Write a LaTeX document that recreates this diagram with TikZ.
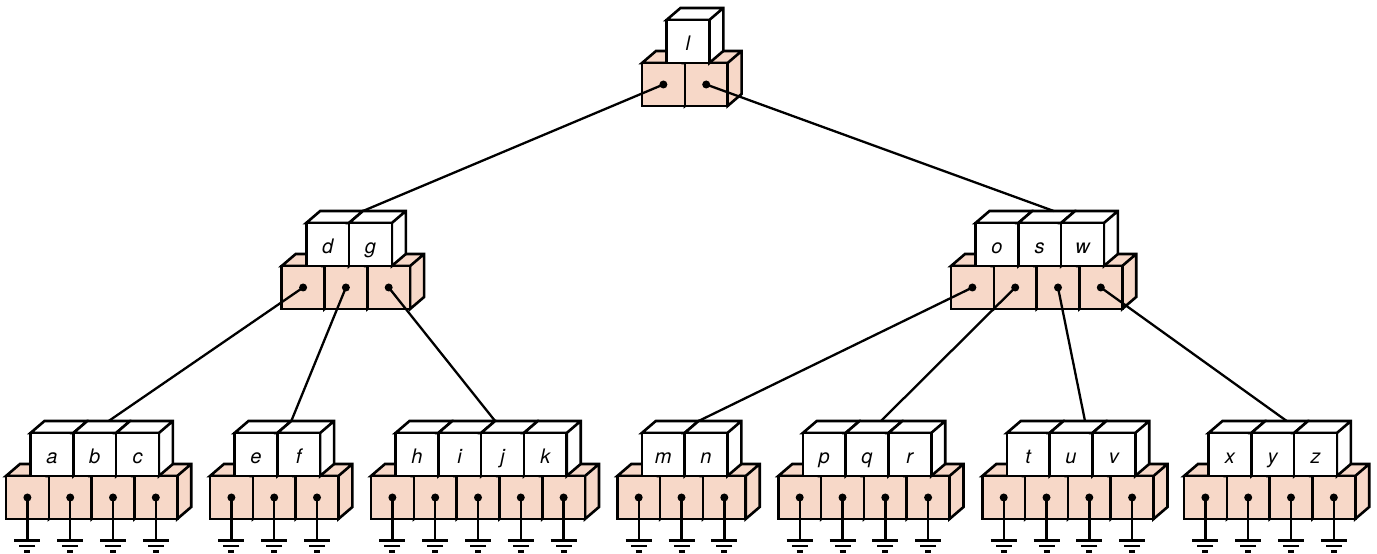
\documentclass[tikz,border=0pt]{standalone}
\usepackage{fontspec}
\setsansfont{TeX Gyre Heros}
\usepackage{xcolor}
\usepackage{tikz}
\usetikzlibrary{positioning}
\definecolor{cellpink}{RGB}{247,216,200}

\begin{document}
\begin{tikzpicture}[
  x=1pt, y=1pt,
  cube/.style={
    rectangle,
    draw,
    fill=#1,
    line width=2.6pt,
    minimum width=42.8pt,
    minimum height=43pt,
    inner sep=0pt,
    outer sep=0pt,
    append after command={\pgfextra{
      \filldraw[fill=#1, line width=2.6pt]
        (\tikzlastnode.north west) -- ++(14,12) -- ++(42.8,0) -- ++(0,-43)
        -- (\tikzlastnode.south east) -- (\tikzlastnode.north east) -- cycle
        (\tikzlastnode.north east) -- ++(14,12);}}
  },
  key/.style={
    cube=white,
    font=\sffamily\itshape\fontsize{20}{20}\selectfont,
    text height=17.5pt,
    text depth=0pt
  },
  ptr/.style={
    cube=cellpink,
    path picture={\fill[black] (path picture bounding box.center) circle[radius=4pt];}
  },
  leaf/.style={
    cube=cellpink,
    path picture={
      \fill[black] (path picture bounding box.center) circle[radius=4pt];
      \draw[line width=2.4pt] (path picture bounding box.center) -- (path picture bounding box.south);},
    append after command={\pgfextra{
      \draw[line width=2.4pt] (\tikzlastnode.south) -- ++(0,-21.5)
        ++(-13,0) -- ++(26,0) ++(-5,-5.5) -- ++(-16,0) ++(5,-5.5) -- ++(6,0);}}
  },
  link/.style={
    line width=2.3pt
  }
]
\useasboundingbox (0,0) rectangle (1377,554);

% Root
\node[ptr, anchor=north west] (l1) at (642,491) {};
\node[ptr, right=0pt of l1] (l2) {};
\node[key, above right=0pt and 24.5pt of l1.north west] (l) {l};

% Second level
\node[ptr, anchor=north west] (dg1) at (281.7,288) {};
\node[ptr, right=0pt of dg1] (dg2) {};
\node[ptr, right=0pt of dg2] (dg3) {};
\node[key, above right=0pt and 24.5pt of dg1.north west] (d) {d};
\node[key, right=0pt of d] (g) {g};

\node[ptr, anchor=north west] (osw1) at (951,288) {};
\node[ptr, right=0pt of osw1] (osw2) {};
\node[ptr, right=0pt of osw2] (osw3) {};
\node[ptr, right=0pt of osw3] (osw4) {};
\node[key, above right=0pt and 24.5pt of osw1.north west] (o) {o};
\node[key, right=0pt of o] (s) {s};
\node[key, right=0pt of s] (w) {w};

% Leaves
\node[leaf, anchor=north west] (abc1) at (6,78) {};
\node[leaf, right=0pt of abc1] (abc2) {};
\node[leaf, right=0pt of abc2] (abc3) {};
\node[leaf, right=0pt of abc3] (abc4) {};
\node[key, above right=0pt and 24.5pt of abc1.north west] (a) {a};
\node[key, right=0pt of a] (b) {b};
\node[key, right=0pt of b] (c) {c};

\node[leaf, anchor=north west] (ef1) at (210,78) {};
\node[leaf, right=0pt of ef1] (ef2) {};
\node[leaf, right=0pt of ef2] (ef3) {};
\node[key, above right=0pt and 24.5pt of ef1.north west] (e) {e};
\node[key, right=0pt of e] (f) {f};

\node[leaf, anchor=north west] (hijk1) at (371,78) {};
\node[leaf, right=0pt of hijk1] (hijk2) {};
\node[leaf, right=0pt of hijk2] (hijk3) {};
\node[leaf, right=0pt of hijk3] (hijk4) {};
\node[leaf, right=0pt of hijk4] (hijk5) {};
\node[key, above right=0pt and 24.5pt of hijk1.north west] (h) {h};
\node[key, right=0pt of h] (i) {i};
\node[key, right=0pt of i] (j) {j};
\node[key, right=0pt of j] (k) {k};

\node[leaf, anchor=north west] (mn1) at (617.3,78) {};
\node[leaf, right=0pt of mn1] (mn2) {};
\node[leaf, right=0pt of mn2] (mn3) {};
\node[key, above right=0pt and 24.5pt of mn1.north west] (m) {m};
\node[key, right=0pt of m] (n) {n};

\node[leaf, anchor=north west] (pqr1) at (778.3,78) {};
\node[leaf, right=0pt of pqr1] (pqr2) {};
\node[leaf, right=0pt of pqr2] (pqr3) {};
\node[leaf, right=0pt of pqr3] (pqr4) {};
\node[key, above right=0pt and 24.5pt of pqr1.north west] (p) {p};
\node[key, right=0pt of p] (q) {q};
\node[key, right=0pt of q] (r) {r};

\node[leaf, anchor=north west] (tuv1) at (982.3,78) {};
\node[leaf, right=0pt of tuv1] (tuv2) {};
\node[leaf, right=0pt of tuv2] (tuv3) {};
\node[leaf, right=0pt of tuv3] (tuv4) {};
\node[key, above right=0pt and 24.5pt of tuv1.north west] (t) {t};
\node[key, right=0pt of t] (u) {u};
\node[key, right=0pt of u] (v) {v};

\node[leaf, anchor=north west] (xyz1) at (1184,78) {};
\node[leaf, right=0pt of xyz1] (xyz2) {};
\node[leaf, right=0pt of xyz2] (xyz3) {};
\node[leaf, right=0pt of xyz3] (xyz4) {};
\node[key, above right=0pt and 24.5pt of xyz1.north west] (x) {x};
\node[key, right=0pt of x] (y) {y};
\node[key, right=0pt of y] (z) {z};

% Child pointers
\draw[link] (l1.center) -- ([xshift=14pt,yshift=12pt]d.north east);
\draw[link] (l2.center) -- ([xshift=14pt,yshift=12pt]s.north);
\draw[link] (dg1.center) -- ([xshift=14pt,yshift=12pt]b.north);
\draw[link] (dg2.center) -- ([xshift=14pt,yshift=12pt]e.north east);
\draw[link] (dg3.center) -- ([xshift=14pt,yshift=12pt]i.north east);
\draw[link] (osw1.center) -- ([xshift=14pt,yshift=12pt]m.north east);
\draw[link] (osw2.center) -- ([xshift=14pt,yshift=12pt]q.north);
\draw[link] (osw3.center) -- ([xshift=14pt,yshift=12pt]u.north);
\draw[link] (osw4.center) -- ([xshift=14pt,yshift=12pt]y.north);
\end{tikzpicture}
\end{document}
